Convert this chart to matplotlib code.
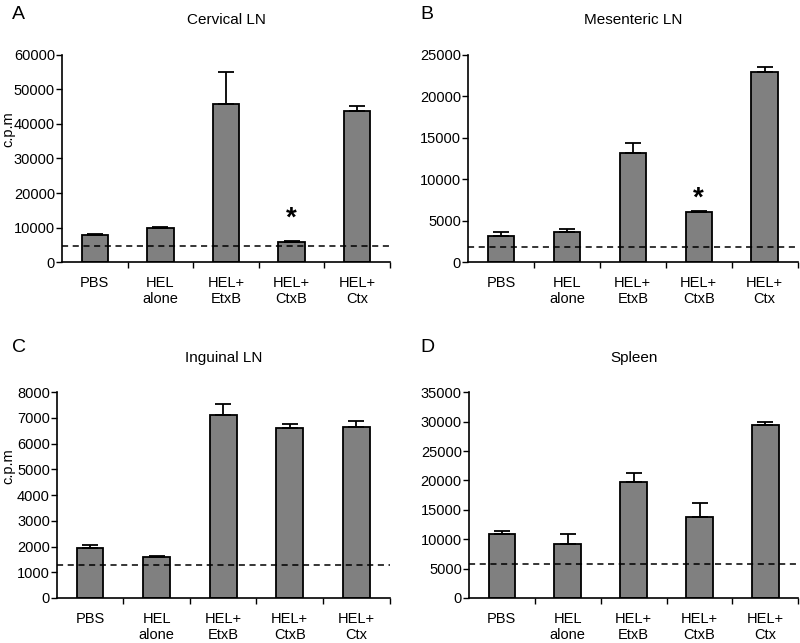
import matplotlib
matplotlib.use("Agg")
import matplotlib.pyplot as plt

plt.rcParams["font.family"] = ["Liberation Sans", "DejaVu Sans"]

groups = ["PBS", "HEL\nalone", "HEL+\nEtxB", "HEL+\nCtxB", "HEL+\nCtx"]

cervical = [7700, 10000, 45800, 5700, 43800]
cervical_err = [300, 100, 9400, 300, 1400]
mesenteric = [3200, 3600, 13200, 6000, 23000]
mesenteric_err = [400, 400, 1200, 200, 600]
inguinal = [1930, 1600, 7120, 6600, 6650]
inguinal_err = [120, 50, 430, 180, 250]
spleen = [10900, 9200, 19700, 13700, 29500]
spleen_err = [500, 1600, 1600, 2500, 500]

baselines = [4500, 1800, 1300, 5800]
star_idx = [3, 3, None, None]
star_y = [12700, 7700, None, None]

titles = ["Cervical LN", "Mesenteric LN", "Inguinal LN", "Spleen"]
letters = ["A", "B", "C", "D"]
ymax = [60000, 25000, 8000, 35000]
ystep = [10000, 5000, 1000, 5000]

# axes rectangles in figure fractions
rects = [
    [0.0775, 0.5925, 0.410, 0.322],
    [0.585, 0.5925, 0.412, 0.322],
    [0.071, 0.070, 0.416, 0.320],
    [0.586, 0.070, 0.412, 0.320],
]
letter_pos = [(0.015, 0.977), (0.525, 0.977), (0.015, 0.46), (0.525, 0.46)]
ylabel_x = [-0.165, None, -0.145, None]

fig = plt.figure(figsize=(8, 6.43), dpi=100)

data = [(cervical, cervical_err), (mesenteric, mesenteric_err),
        (inguinal, inguinal_err), (spleen, spleen_err)]

for i, (vals, errs) in enumerate(data):
    ax = fig.add_axes(rects[i])
    x = list(range(len(groups)))
    ax.bar(x, vals, width=0.4, color="#808080", edgecolor="black",
           linewidth=1.3, zorder=2)
    ax.errorbar(x, vals, yerr=[[0] * len(errs), errs], fmt="none",
                ecolor="black", elinewidth=1.3, capsize=6, capthick=1.3,
                zorder=3)
    ax.axhline(baselines[i], color="black", linestyle=(0, (4, 3)),
               linewidth=1.1, zorder=4)
    if star_idx[i] is not None:
        ax.text(star_idx[i], star_y[i], "*", ha="center", va="center",
                fontsize=20, fontweight="bold")

    ax.set_xlim(-0.5, 4.5)
    ax.set_ylim(0, ymax[i])
    ax.set_yticks(range(0, ymax[i] + 1, ystep[i]))
    ax.set_xticks(x)
    ax.set_xticklabels(groups, fontsize=10.5)
    ax.set_xticks([0.5, 1.5, 2.5, 3.5, 4.5], minor=True)
    ax.tick_params(axis="x", which="major", length=0, pad=10)
    ax.tick_params(axis="x", which="minor", length=4, width=1, direction="out")
    ax.tick_params(axis="y", labelsize=10.5, length=4, width=1, pad=1)
    for side in ["top", "right"]:
        ax.spines[side].set_visible(False)
    for side in ["left", "bottom"]:
        ax.spines[side].set_linewidth(1.2)

    ax.set_title(titles[i], fontsize=11, pad=22)
    if ylabel_x[i] is not None:
        ax.set_ylabel("c.p.m", fontsize=10.5, va="center")
        ax.yaxis.set_label_coords(ylabel_x[i], 0.64)
    fig.text(letter_pos[i][0], letter_pos[i][1], letters[i], fontsize=14,
             va="center", ha="left")

fig.savefig("out.png", dpi=100)
